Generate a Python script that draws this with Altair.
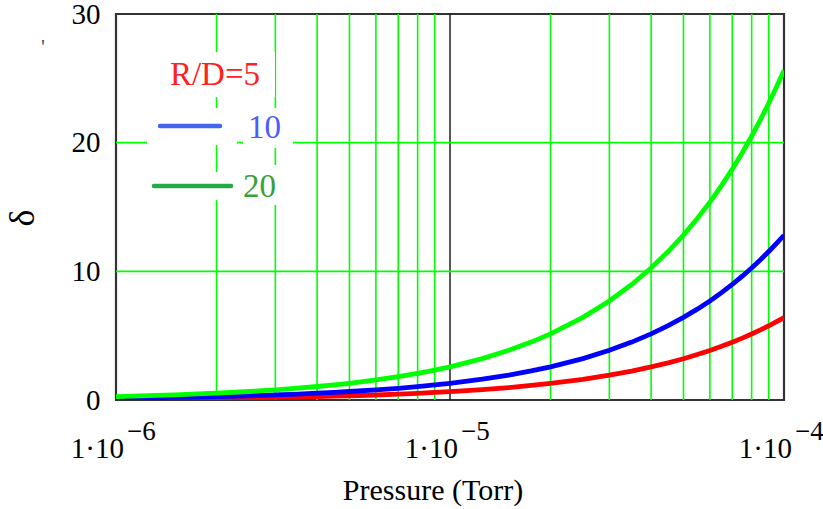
import altair as alt
import pandas as pd

# ---- data ----
pressure = [1e-6, 1.25e-6, 1.5e-6, 1.75e-6, 2e-6, 2.5e-6, 3e-6, 3.5e-6, 4e-6, 4.5e-6,
            5e-6, 6e-6, 7e-6, 8e-6, 9e-6, 1e-5, 1.25e-5, 1.5e-5, 1.75e-5, 2e-5,
            2.5e-5, 3e-5, 3.5e-5, 4e-5, 4.5e-5, 5e-5, 5.5e-5, 6e-5, 6.5e-5, 7e-5,
            7.5e-5, 8e-5, 8.5e-5, 9e-5, 9.5e-5, 1e-4]
delta_rd20 = [0.27, 0.34, 0.40, 0.47, 0.53, 0.66, 0.79, 0.92, 1.05, 1.17,
              1.30, 1.56, 1.81, 2.07, 2.32, 2.58, 3.22, 3.86, 4.5, 5.14,
              6.42, 7.7, 8.98, 10.26, 11.54, 12.82, 14.1, 15.38, 16.66, 17.94,
              19.22, 20.5, 21.78, 23.06, 24.34, 25.6]
delta_rd10 = [0.14, 0.17, 0.20, 0.23, 0.27, 0.33, 0.40, 0.46, 0.53, 0.59,
              0.66, 0.78, 0.91, 1.04, 1.17, 1.30, 1.62, 1.94, 2.26, 2.58,
              3.22, 3.86, 4.5, 5.14, 5.78, 6.42, 7.06, 7.7, 8.34, 8.98,
              9.62, 10.26, 10.9, 11.54, 12.18, 12.8]
delta_rd5 = [0.07, 0.085, 0.10, 0.12, 0.135, 0.17, 0.20, 0.23, 0.265, 0.30,
             0.33, 0.39, 0.46, 0.52, 0.59, 0.65, 0.81, 0.97, 1.13, 1.29,
             1.61, 1.93, 2.25, 2.57, 2.89, 3.21, 3.53, 3.85, 4.17, 4.49,
             4.81, 5.13, 5.45, 5.77, 6.09, 6.4]
series_names = ["R/D=5", "10", "20"]
series_colors = ["#ff0000", "#0000ff", "#00ff00"]

x_grid = [2e-6, 3e-6, 4e-6, 5e-6, 6e-6, 7e-6, 8e-6, 9e-6,
          2e-5, 3e-5, 4e-5, 5e-5, 6e-5, 7e-5, 8e-5, 9e-5]
x_major = [1e-5]
y_grid = [10, 20]
y_ticks = [0, 10, 20, 30]
x_tick_vals = [1e-6, 1e-5, 1e-4]
x_tick_base = ["1·10", "1·10", "1·10"]
x_tick_exp = ["\u22126", "\u22125", "\u22124"]

FONT = "Liberation Serif"

rows = []
for name, vals in zip(series_names, [delta_rd5, delta_rd10, delta_rd20]):
    for p, v in zip(pressure, vals):
        rows.append({"p": p, "d": v, "s": name})
df = pd.DataFrame(rows)

xs = alt.Scale(type="log", domain=[1e-6, 1e-4], nice=False)
ys = alt.Scale(domain=[0, 30], nice=False, zero=False)
y_axis = alt.Axis(
    values=y_ticks, labelFont=FONT, labelFontSize=29, labelColor="black",
    ticks=False, domain=False, grid=False, labelPadding=16, title=None,
    labelOverlap=False)

grid_x = alt.Chart(pd.DataFrame({"p": x_grid})).mark_rule(
    color="#00ff00", strokeWidth=1.6
).encode(x=alt.X("p:Q", scale=xs, axis=None))

grid_major = alt.Chart(pd.DataFrame({"p": x_major})).mark_rule(
    color="#111111", strokeWidth=1.4
).encode(x=alt.X("p:Q", scale=xs, axis=None))

grid_y = alt.Chart(pd.DataFrame({"v": y_grid})).mark_rule(
    color="#00ff00", strokeWidth=1.6
).encode(y=alt.Y("v:Q", scale=ys, axis=y_axis))

one = pd.DataFrame({"a": [0]})


def box(x1, x2, y1, y2):
    return alt.Chart(one).mark_rect(color="white").encode(
        x=alt.value(x1), x2=alt.value(x2), y=alt.value(y1), y2=alt.value(y2))


boxes = [box(39, 159, 38, 83), box(31, 121, 94, 131), box(127, 177, 94, 134),
         box(31, 121, 158, 186), box(122, 174, 151, 191)]

lines = alt.Chart(df).mark_line(strokeWidth=4.8, clip=True).encode(
    x=alt.X("p:Q", scale=xs, axis=None),
    y=alt.Y("d:Q", scale=ys, axis=y_axis),
    color=alt.Color("s:N", scale=alt.Scale(domain=series_names, range=series_colors), legend=None),
    order=alt.Order("p:Q"),
)

tick_df = pd.DataFrame({"p": x_tick_vals, "b": x_tick_base, "e": x_tick_exp})
tick_base = alt.Chart(tick_df).mark_text(
    font=FONT, fontSize=29, align="right", baseline="alphabetic", dx=8, color="black"
).encode(x=alt.X("p:Q", scale=xs, axis=None), y=alt.value(444), text="b:N")
tick_exp = alt.Chart(tick_df).mark_text(
    font=FONT, fontSize=27, align="left", baseline="alphabetic", dx=11, color="black"
).encode(x=alt.X("p:Q", scale=xs, axis=None), y=alt.value(426), text="e:N")


def label(txt, x, y, color="black", size=30, align="center", angle=0):
    kw = dict(text=txt, font=FONT, fontSize=size, align=align,
              baseline="alphabetic", color=color)
    if angle:
        kw["angle"] = angle
        kw["baseline"] = "middle"
    return alt.Chart(one).mark_text(**kw).encode(x=alt.value(x), y=alt.value(y))


def seg(x1, x2, y, color):
    return alt.Chart(one).mark_rule(color=color, strokeWidth=4.5, strokeCap="round").encode(
        x=alt.value(x1), x2=alt.value(x2), y=alt.value(y))


texts = [
    label("Pressure (Torr)", 317, 486),
    label("\u03b4", -93, 204, size=36, angle=270),
    label("'", -73, 40, color="#555555", size=22),
    label("R/D=5", 99, 71, color="#ff2020", size=33),
    label("10", 132, 124, color="#4a5cff", size=33, align="left"),
    label("20", 127, 183, color="#3aa03a", size=33, align="left"),
    seg(44, 104, 112, "#4466ee"),
    seg(38, 115, 172, "#22aa44"),
]

chart = alt.layer(
    grid_x, grid_major, grid_y, *boxes, lines, tick_base, tick_exp, *texts
).properties(
    width=668, height=386,
    padding={"left": 116, "top": 14, "right": 39, "bottom": 109},
    autosize=alt.AutoSizeParams(type="none"),
    background="white",
).configure_view(stroke="#333333", strokeWidth=2.2)

chart.save("out.html", embed_options={"renderer": "svg", "actions": False})
